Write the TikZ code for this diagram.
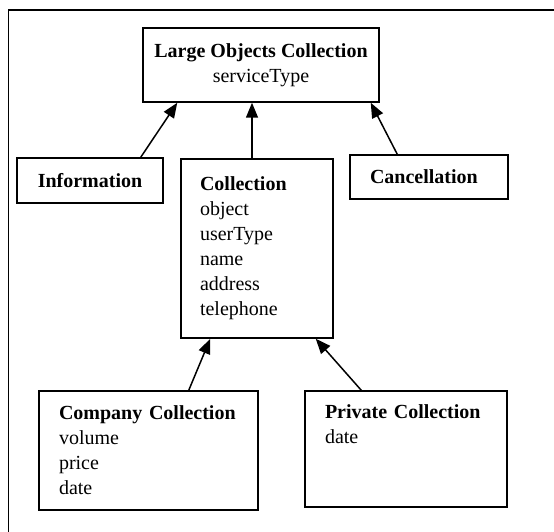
\documentclass[tikz,border=0pt]{standalone}
\usepackage{fontspec}
\setmainfont{Liberation Serif}
\usetikzlibrary{arrows.meta,positioning}

\tikzset{
  cls/.style={draw, line width=1.5pt, font=\fontsize{20}{25}\selectfont, inner ysep=0pt},
  inherit/.style={line width=1.5pt, -{Triangle[length=15pt,width=12pt]}},
}

\begin{document}
\begin{tikzpicture}[x=1pt,y=-1pt]
\useasboundingbox (0,0) rectangle (554,532);
% frame round the whole model
\draw[line width=1.5pt] (8.5,545) -- (8.5,10) -- (565,10);
% superclass
\node[cls, align=center, minimum width=236pt, minimum height=74pt] (large) at (261,65) {\textbf{Large Objects Collection}\\serviceType};
% services
\node[cls, align=center, minimum width=146pt, minimum height=45pt] (info) at (90,180.5) {\textbf{Information}};
\node[cls, text width=114pt, inner xsep=19pt, align=left, minimum height=179pt] (coll) at (257,248.5) {\textbf{Collection}\\object\\userType\\name\\address\\telephone};
\node[cls, text width=118pt, inner xsep=20pt, align=left, minimum height=44pt] (cancel) at (429,177) {\textbf{Cancellation}};
% kinds of collection
\node[cls, text width=179pt, inner xsep=20pt, align=left, minimum height=119pt] (company) at (148.5,450.5) {\textbf{Company Collection}\\volume\\price\\date};
\node[cls, text width=162pt, inner xsep=20pt, align=left, minimum height=116pt] (private) at (406,449) {\textbf{Private Collection}\\date\\~\\~};
% inheritance arrows
\draw[inherit] ([xshift=-23pt]info.north east) -- ([xshift=35pt]large.south west);
\draw[inherit] ([xshift=-5pt]coll.north) -- ([xshift=-5pt]coll.north |- large.south);
\draw[inherit] ([xshift=48pt]cancel.north west) -- ([xshift=-9pt]large.south east);
\draw[inherit] ([xshift=-70pt]company.north east) -- ([xshift=30pt]coll.south west);
\draw[inherit] ([xshift=57pt]private.north west) -- ([xshift=-18pt]coll.south east);
\end{tikzpicture}
\end{document}
